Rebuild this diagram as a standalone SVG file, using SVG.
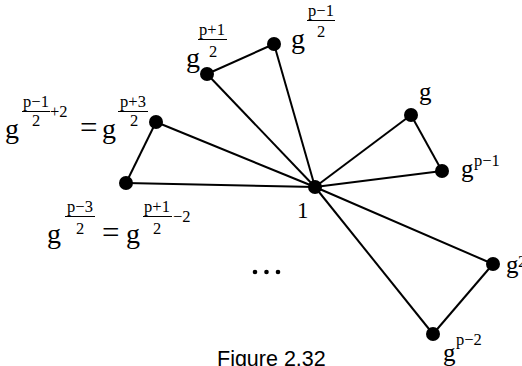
<svg xmlns="http://www.w3.org/2000/svg" width="522" height="366" viewBox="0 0 522 366">
<style>
.e{stroke:#000;stroke-width:2;fill:none}
.n{fill:#000}
.g{font-family:"Liberation Serif","Times New Roman",serif;font-size:28px;fill:#000}
.s{font-family:"Liberation Serif","Times New Roman",serif;font-size:16.5px;fill:#000}
.m{text-anchor:middle}
.b{stroke:#000;stroke-width:1}
.cap{font-family:"Liberation Sans",Arial,sans-serif;font-size:21.5px;fill:#000}
</style>
<rect width="522" height="366" fill="#fff"/>
<g id="connectors">
<line class="e" x1="315" y1="187" x2="207" y2="74"/>
<line class="e" x1="315" y1="187" x2="274" y2="44"/>
<line class="e" x1="207" y1="74" x2="274" y2="44"/>
<line class="e" x1="315" y1="187" x2="156" y2="122"/>
<line class="e" x1="315" y1="187" x2="126" y2="183"/>
<line class="e" x1="156" y1="122" x2="126" y2="183"/>
<line class="e" x1="315" y1="187" x2="411" y2="115"/>
<line class="e" x1="315" y1="187" x2="442" y2="171"/>
<line class="e" x1="411" y1="115" x2="442" y2="171"/>
<line class="e" x1="315" y1="187" x2="493" y2="264"/>
<line class="e" x1="315" y1="187" x2="433" y2="334"/>
<line class="e" x1="493" y1="264" x2="433" y2="334"/>
</g>
<g id="n1"><circle class="n" cx="315" cy="187" r="7"/><text class="g" x="297" y="218" style="font-size:23px">1</text></g>
<g id="nA"><circle class="n" cx="207" cy="74" r="7"/>
<text class="g" x="186" y="67">g</text>
<text class="s m" x="212" y="35">p+1</text><line class="b" x1="198" y1="39.5" x2="227" y2="39.5"/><text class="s m" x="213" y="57">2</text></g>
<g id="nB"><circle class="n" cx="274" cy="44" r="7"/>
<text class="g" x="291" y="48">g</text>
<text class="s m" x="321" y="16">p−1</text><line class="b" x1="307" y1="20.5" x2="335" y2="20.5"/><text class="s m" x="321" y="37">2</text></g>
<g id="nC"><circle class="n" cx="156" cy="122" r="7"/>
<text class="g" x="5" y="138">g</text>
<text class="s m" x="36" y="107">p−1</text><line class="b" x1="22" y1="111.5" x2="50" y2="111.5"/><text class="s m" x="36" y="126">2</text>
<text class="s" x="50" y="117">+2</text>
<text class="g" x="80" y="138" style="font-size:31px">=</text>
<text class="g" x="102" y="138">g</text>
<text class="s m" x="133" y="107">p+3</text><line class="b" x1="118" y1="111.5" x2="148" y2="111.5"/><text class="s m" x="134" y="126">2</text></g>
<g id="nD"><circle class="n" cx="126" cy="183" r="7"/>
<text class="g" x="47" y="243">g</text>
<text class="s m" x="80" y="212">p−3</text><line class="b" x1="65" y1="216.5" x2="95" y2="216.5"/><text class="s m" x="80" y="234">2</text>
<text class="g" x="102" y="243" style="font-size:31px">=</text>
<text class="g" x="126" y="243">g</text>
<text class="s m" x="157" y="212">p+1</text><line class="b" x1="143" y1="216.5" x2="172" y2="216.5"/><text class="s m" x="157" y="234">2</text>
<text class="s" x="173" y="222">−2</text></g>
<g id="nE"><circle class="n" cx="411" cy="115" r="7"/><text class="g" x="419" y="100" style="font-size:25px">g</text></g>
<g id="nF"><circle class="n" cx="442" cy="171" r="7"/><text class="g" x="461" y="177" style="font-size:25px">g</text><text class="s" x="474" y="166">p−1</text></g>
<g id="nG"><circle class="n" cx="493" cy="264" r="7"/><text class="g" x="506" y="273" style="font-size:25px">g</text><text class="s" x="518" y="267">2</text></g>
<g id="nH"><circle class="n" cx="433" cy="334" r="7"/><text class="g" x="443" y="361" style="font-size:25px">g</text><text class="s" x="456" y="345">p−2</text></g>
<g id="dots"><circle class="n" cx="255" cy="272" r="2.3"/><circle class="n" cx="266.5" cy="272" r="2.3"/><circle class="n" cx="278" cy="272" r="2.3"/></g>
<text class="cap" x="217" y="366">Figure 2.32</text>
</svg>
